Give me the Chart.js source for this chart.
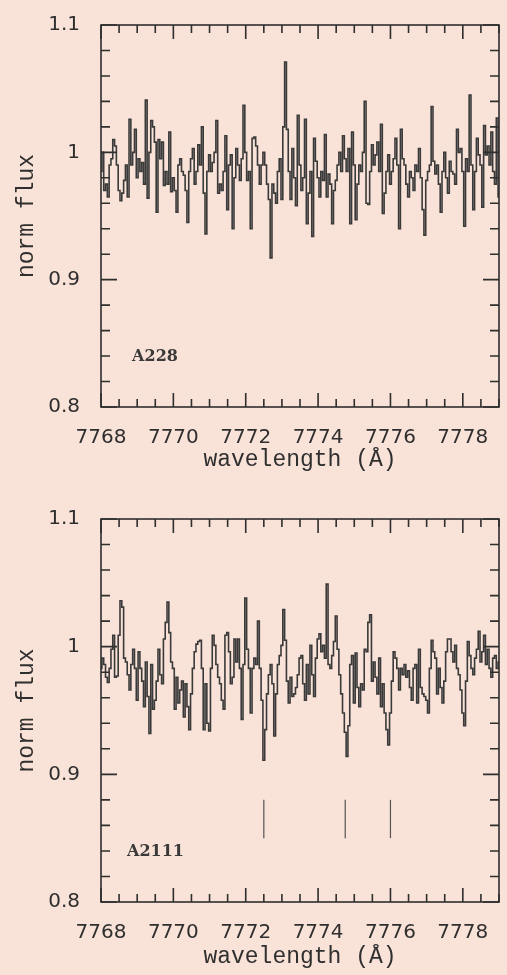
<!DOCTYPE html>
<html>
<head>
<meta charset="utf-8">
<script src="https://cdn.jsdelivr.net/npm/chart.js@4"></script>
<style>
    body { margin: 0; background: #f9e2d7; }
    canvas { display: block; }
</style>
</head>
<body>
<canvas id="top-chart" width="507" height="494"></canvas>
<canvas id="bottom-chart" width="507" height="481"></canvas>
<script>
// wavelength grid of both spectra (Angstrom)
const wlStart = 7768;
const wlStep = 0.05;

// normalised flux, one row per Angstrom
const fluxA228 = [
    0.985, 1.000, 0.970, 0.975, 0.965, 0.990, 0.995, 1.010, 1.005, 0.990, 0.970, 0.962, 0.968, 0.978, 0.990, 0.965, 1.026, 0.990, 1.000, 1.018,
    0.980, 0.995, 0.985, 0.992, 0.975, 1.041, 0.964, 1.000, 1.025, 1.020, 1.008, 0.953, 1.010, 0.995, 1.008, 0.974, 0.985, 0.975, 1.016, 0.969,
    0.980, 0.970, 0.953, 0.990, 0.995, 0.985, 0.982, 0.970, 0.945, 0.985, 0.995, 1.003, 0.975, 0.985, 1.006, 0.990, 1.020, 0.968, 0.936, 0.985,
    0.998, 0.985, 0.992, 1.000, 1.025, 0.968, 0.975, 0.970, 0.985, 1.013, 0.955, 0.990, 0.998, 0.940, 0.980, 1.003, 0.990, 0.978, 0.995, 1.037,
    1.000, 0.978, 0.985, 0.940, 1.011, 1.012, 1.005, 0.990, 0.975, 0.990, 1.000, 0.990, 0.975, 0.963, 0.917, 0.975, 0.968, 0.960, 0.985, 0.995,
    0.963, 1.020, 1.071, 1.018, 0.985, 0.963, 1.003, 0.980, 0.958, 1.029, 0.990, 0.970, 0.980, 1.026, 0.944, 0.968, 0.985, 0.934, 1.011, 0.993,
    0.980, 0.965, 0.985, 0.978, 1.014, 0.965, 0.983, 0.975, 0.944, 0.970, 0.978, 0.990, 1.000, 0.985, 1.013, 0.995, 0.985, 1.003, 0.944, 1.016,
    0.990, 0.947, 0.975, 0.990, 0.985, 1.000, 1.040, 0.960, 0.959, 0.985, 1.006, 0.990, 0.998, 1.008, 0.985, 1.022, 0.952, 0.968, 0.985, 0.998,
    0.975, 0.985, 0.995, 1.011, 0.990, 0.940, 1.018, 0.995, 0.990, 0.975, 0.965, 0.985, 0.980, 0.970, 0.990, 0.985, 1.003, 0.980, 0.955, 0.935,
    0.978, 0.985, 0.990, 1.036, 0.993, 0.983, 0.990, 0.975, 0.953, 0.985, 1.000, 0.980, 0.968, 0.993, 0.985, 0.983, 0.975, 1.018, 1.000, 1.003,
    0.985, 0.942, 0.995, 0.985, 1.045, 0.990, 0.955, 0.985, 1.011, 0.998, 0.990, 0.957, 1.021, 0.998, 1.005, 0.990, 1.016, 0.985, 0.975, 1.027,
    0.965
];

const fluxA2111 = [
    0.983, 0.991, 0.986, 0.976, 0.972, 0.983, 0.998, 1.009, 0.976, 0.977, 1.009, 1.036, 1.031, 0.991, 0.988, 0.978, 0.966, 0.986, 0.998, 0.983,
    0.958, 0.996, 0.983, 0.973, 0.953, 0.988, 0.961, 0.932, 0.986, 0.951, 0.958, 0.973, 0.998, 0.978, 0.971, 1.006, 1.019, 1.035, 1.011, 0.988,
    0.983, 0.951, 0.976, 0.956, 0.966, 0.973, 0.945, 0.971, 0.953, 0.935, 0.963, 0.983, 0.996, 1.002, 1.004, 1.005, 0.983, 0.935, 0.971, 0.940,
    0.934, 0.983, 1.009, 1.001, 0.986, 0.976, 0.971, 0.958, 0.951, 1.009, 1.011, 0.996, 0.971, 0.976, 1.006, 0.988, 1.006, 0.983, 0.943, 0.986,
    1.038, 0.998, 0.983, 0.948, 0.983, 0.991, 0.986, 1.020, 0.983, 0.958, 0.911, 0.935, 0.963, 0.978, 0.986, 0.971, 0.930, 0.963, 0.986, 0.993,
    1.001, 1.029, 1.005, 0.973, 0.956, 0.976, 0.961, 0.963, 0.968, 0.978, 0.991, 0.993, 0.971, 0.958, 0.986, 0.963, 1.001, 0.978, 0.961, 0.991,
    1.006, 1.010, 0.996, 1.001, 0.991, 1.049, 0.986, 0.983, 0.993, 1.004, 1.024, 0.998, 0.978, 0.963, 0.948, 0.933, 0.914, 0.938, 0.986, 0.993,
    0.956, 0.995, 0.968, 0.953, 0.971, 0.966, 0.998, 0.996, 1.019, 1.025, 0.973, 0.988, 0.976, 0.963, 0.991, 0.953, 0.971, 0.948, 0.935, 0.923,
    0.948, 0.973, 0.996, 0.991, 0.983, 0.966, 0.983, 0.978, 0.986, 0.976, 0.981, 0.968, 0.958, 0.983, 0.986, 0.956, 0.998, 0.968, 0.963, 0.961,
    0.958, 0.948, 0.983, 1.005, 0.996, 0.991, 0.963, 0.983, 0.968, 0.956, 0.973, 0.996, 1.006, 1.006, 0.996, 0.988, 1.001, 0.983, 0.978, 0.966,
    0.948, 0.938, 0.973, 1.004, 0.993, 0.983, 0.978, 0.991, 0.998, 1.012, 0.988, 0.996, 1.009, 0.986, 0.998, 0.983, 0.976, 0.991, 0.993, 0.983,
    0.988
];

// line positions marked under the A2111 spectrum
const markerWl = [7772.5, 7774.75, 7776.0];
const markerLow = 0.85;
const markerHigh = 0.88;

// axes
const xRange = [7768, 7779];
const yRange = [0.8, 1.1];
const xTickLabels = [7768, 7770, 7772, 7774, 7776, 7778];
const yTickLabels = [0.8, 0.9, 1, 1.1];

// panel names and where they sit (data coords)
const panelNames = ['A228', 'A2111'];
const nameAt = [[7768.86, 0.839], [7768.72, 0.839]];

const INK = '#2f2f2f';

function spectrumPoints(flux) {
    return flux.map((f, i) => ({ x: +(wlStart + i * wlStep).toFixed(2), y: f }));
}

// box, inward ticks on all four sides, panel name
const framePlugin = {
    id: 'frame',
    afterDatasetsDraw(chart, args, opts) {
        const { ctx, chartArea: a, scales: { x, y } } = chart;
        ctx.save();
        ctx.strokeStyle = INK;
        ctx.lineWidth = 1.6;
        ctx.strokeRect(a.left, a.top, a.right - a.left, a.bottom - a.top);

        ctx.beginPath();
        for (let k = 0; k <= 22; k++) {
            const v = xRange[0] + k * 0.5;
            const px = x.getPixelForValue(v);
            const len = (k % 4 === 0) ? 14 : 8;
            ctx.moveTo(px, a.bottom); ctx.lineTo(px, a.bottom - len);
            ctx.moveTo(px, a.top); ctx.lineTo(px, a.top + len);
        }
        for (let k = 0; k <= 15; k++) {
            const v = yRange[0] + k * 0.02;
            const py = y.getPixelForValue(v);
            const len = (k % 5 === 0) ? 16 : 9;
            ctx.moveTo(a.left, py); ctx.lineTo(a.left + len, py);
            ctx.moveTo(a.right, py); ctx.lineTo(a.right - len, py);
        }
        ctx.stroke();

        ctx.fillStyle = '#3a3a3a';
        ctx.font = 'bold 16px "DejaVu Serif"';
        ctx.textBaseline = 'middle';
        ctx.textAlign = 'left';
        ctx.fillText(opts.name, x.getPixelForValue(opts.at[0]), y.getPixelForValue(opts.at[1]));
        ctx.restore();
    }
};

function makePanel(canvasId, flux, idx, withMarkers) {
    const canvas = document.getElementById(canvasId);
    const H = canvas.height;
    const plotBottom = H === 494 ? 407 : 408;
    const titleCenter = H === 494 ? 460 : 463;
    const titleFont = { family: '"Liberation Mono", monospace', size: 23 };

    const datasets = [{
        data: spectrumPoints(flux),
        borderColor: '#3a3a3a',
        borderWidth: 1.6,
        pointRadius: 0,
        stepped: 'middle',
        fill: false
    }];
    if (withMarkers) {
        markerWl.forEach(w => {
            datasets.push({
                data: [{ x: w, y: markerLow }, { x: w, y: markerHigh }],
                borderColor: '#555',
                borderWidth: 1.2,
                pointRadius: 0
            });
        });
    }

    return new Chart(canvas.getContext('2d'), {
        type: 'line',
        data: { datasets },
        options: {
            responsive: false,
            animation: false,
            devicePixelRatio: 1,
            layout: { padding: { top: 12, right: 8, bottom: 0, left: 0 } },
            plugins: {
                legend: { display: false },
                tooltip: { enabled: false },
                frame: { name: panelNames[idx], at: nameAt[idx] }
            },
            scales: {
                x: {
                    type: 'linear',
                    min: xRange[0],
                    max: xRange[1],
                    grid: { display: false },
                    border: { display: false },
                    afterBuildTicks: s => { s.ticks = xTickLabels.map(v => ({ value: v })); },
                    afterFit: s => { s.height = H - 12 - (plotBottom - 12); },
                    ticks: {
                        autoSkip: false,
                        maxRotation: 0,
                        padding: 11,
                        color: INK,
                        font: { family: '"DejaVu Sans"', size: 20 },
                        callback: v => String(v)
                    },
                    title: {
                        display: true,
                        text: 'wavelength (Å)',
                        color: INK,
                        font: titleFont,
                        padding: { top: 0, bottom: H - titleCenter - 13.8 }
                    }
                },
                y: {
                    type: 'linear',
                    min: yRange[0],
                    max: yRange[1],
                    grid: { display: false },
                    border: { display: false },
                    afterBuildTicks: s => { s.ticks = yTickLabels.map(v => ({ value: v })); },
                    afterFit: s => { s.width = 101; },
                    ticks: {
                        padding: 13,
                        color: INK,
                        font: { family: '"DejaVu Sans"', size: 20 },
                        callback: v => String(v)
                    },
                    title: {
                        display: true,
                        text: 'norm flux',
                        color: INK,
                        font: titleFont,
                        padding: { top: 13, bottom: 0 }
                    }
                }
            }
        },
        plugins: [framePlugin]
    });
}

makePanel('top-chart', fluxA228, 0, false);
makePanel('bottom-chart', fluxA2111, 1, true);
</script>
</body>
</html>
